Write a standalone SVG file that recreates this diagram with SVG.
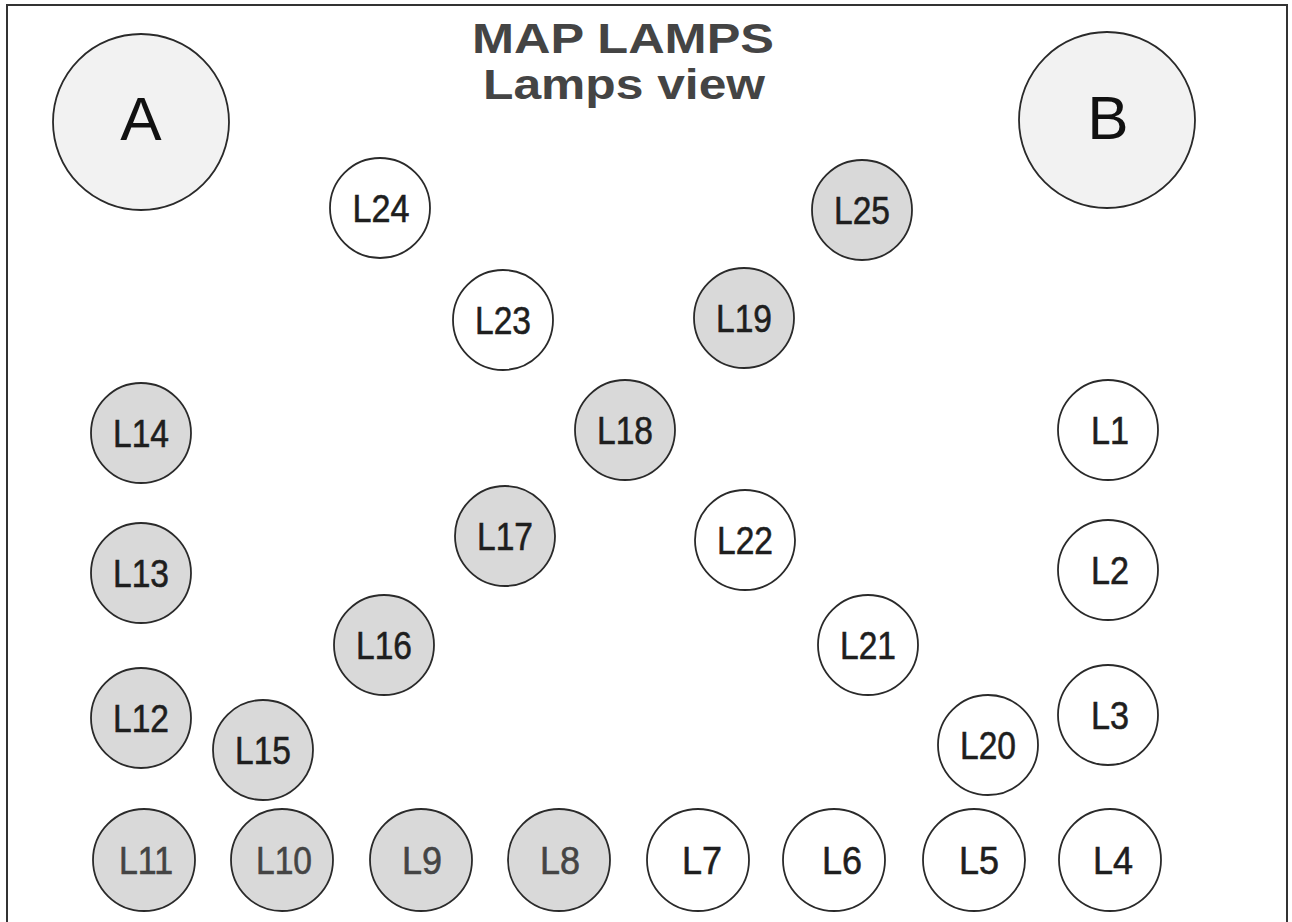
<svg xmlns="http://www.w3.org/2000/svg" width="1292" height="922" viewBox="0 0 1292 922">
<style>
.big{fill:#f2f2f2;stroke:#2a2a2a;stroke-width:1.8}
.on{fill:#d9d9d9;stroke:#2a2a2a;stroke-width:1.8}
.off{fill:#ffffff;stroke:#2a2a2a;stroke-width:1.8}
.lbl{font-family:"Liberation Sans",Arial,sans-serif;font-size:38px;fill:#1e1e1e;stroke:#1e1e1e;stroke-width:0.6;text-anchor:middle}
.dim{fill:#444;stroke:#444}
.bl{font-family:"Liberation Sans",Arial,sans-serif;font-size:62px;fill:#111;text-anchor:middle}
.title{font-family:"Liberation Sans",Arial,sans-serif;font-size:42px;font-weight:bold;fill:#444;text-anchor:middle}
</style>
<rect width="1292" height="922" fill="#fff"/>
<g id="frame" fill="none" stroke="#333" stroke-width="2">
<path d="M7 922 V5 H1287 V922"/>
</g>
<g id="title">
<text class="title" x="623" y="53" textLength="302" lengthAdjust="spacingAndGlyphs">MAP LAMPS</text>
<text class="title" x="624" y="99" textLength="282" lengthAdjust="spacingAndGlyphs">Lamps view</text>
</g>
<g id="A"><circle class="big" cx="141" cy="122" r="88"/><text class="bl" x="141" y="140">A</text></g>
<g id="B"><circle class="big" cx="1107" cy="120" r="88"/><text class="bl" x="1108" y="139">B</text></g>
<g id="connectors"></g>
<g id="L24"><circle class="off" cx="380" cy="208" r="50"/><text class="lbl" x="381" y="222" textLength="57" lengthAdjust="spacingAndGlyphs">L24</text></g>
<g id="L25"><circle class="on" cx="862" cy="210" r="50"/><text class="lbl" x="862" y="224" textLength="56" lengthAdjust="spacingAndGlyphs">L25</text></g>
<g id="L23"><circle class="off" cx="503" cy="320" r="50"/><text class="lbl" x="503" y="334" textLength="56" lengthAdjust="spacingAndGlyphs">L23</text></g>
<g id="L19"><circle class="on" cx="744" cy="318" r="50"/><text class="lbl" x="744" y="332" textLength="56" lengthAdjust="spacingAndGlyphs">L19</text></g>
<g id="L14"><circle class="on" cx="141" cy="433" r="50"/><text class="lbl" x="141" y="447" textLength="56" lengthAdjust="spacingAndGlyphs">L14</text></g>
<g id="L18"><circle class="on" cx="625" cy="430" r="50"/><text class="lbl" x="625" y="444" textLength="56" lengthAdjust="spacingAndGlyphs">L18</text></g>
<g id="L1"><circle class="off" cx="1108" cy="430" r="50"/><text class="lbl" x="1110" y="444" textLength="38" lengthAdjust="spacingAndGlyphs">L1</text></g>
<g id="L17"><circle class="on" cx="505" cy="536" r="50"/><text class="lbl" x="505" y="550" textLength="56" lengthAdjust="spacingAndGlyphs">L17</text></g>
<g id="L22"><circle class="off" cx="745" cy="540" r="50"/><text class="lbl" x="745" y="554" textLength="56" lengthAdjust="spacingAndGlyphs">L22</text></g>
<g id="L13"><circle class="on" cx="141" cy="573" r="50"/><text class="lbl" x="141" y="587" textLength="56" lengthAdjust="spacingAndGlyphs">L13</text></g>
<g id="L2"><circle class="off" cx="1108" cy="570" r="50"/><text class="lbl" x="1110" y="584" textLength="38" lengthAdjust="spacingAndGlyphs">L2</text></g>
<g id="L16"><circle class="on" cx="384" cy="645" r="50"/><text class="lbl" x="384" y="659" textLength="56" lengthAdjust="spacingAndGlyphs">L16</text></g>
<g id="L21"><circle class="off" cx="868" cy="645" r="50"/><text class="lbl" x="868" y="659" textLength="56" lengthAdjust="spacingAndGlyphs">L21</text></g>
<g id="L12"><circle class="on" cx="141" cy="718" r="50"/><text class="lbl" x="141" y="732" textLength="56" lengthAdjust="spacingAndGlyphs">L12</text></g>
<g id="L3"><circle class="off" cx="1108" cy="715" r="50"/><text class="lbl" x="1110" y="729" textLength="38" lengthAdjust="spacingAndGlyphs">L3</text></g>
<g id="L15"><circle class="on" cx="263" cy="750" r="50"/><text class="lbl" x="263" y="764" textLength="56" lengthAdjust="spacingAndGlyphs">L15</text></g>
<g id="L20"><circle class="off" cx="988" cy="745" r="50"/><text class="lbl" x="988" y="759" textLength="56" lengthAdjust="spacingAndGlyphs">L20</text></g>
<g id="L11"><circle class="on" cx="144" cy="860" r="51"/><text class="lbl dim" x="146" y="874" textLength="54" lengthAdjust="spacingAndGlyphs">L11</text></g>
<g id="L10"><circle class="on" cx="282" cy="860" r="51"/><text class="lbl dim" x="284" y="874" textLength="56" lengthAdjust="spacingAndGlyphs">L10</text></g>
<g id="L9"><circle class="on" cx="421" cy="860" r="51"/><text class="lbl dim" x="422" y="874" textLength="40" lengthAdjust="spacingAndGlyphs">L9</text></g>
<g id="L8"><circle class="on" cx="559" cy="860" r="51"/><text class="lbl dim" x="560" y="874" textLength="40" lengthAdjust="spacingAndGlyphs">L8</text></g>
<g id="L7"><circle class="off" cx="698" cy="860" r="51"/><text class="lbl" x="702" y="874" textLength="40" lengthAdjust="spacingAndGlyphs">L7</text></g>
<g id="L6"><circle class="off" cx="834" cy="860" r="51"/><text class="lbl" x="842" y="874" textLength="40" lengthAdjust="spacingAndGlyphs">L6</text></g>
<g id="L5"><circle class="off" cx="974" cy="860" r="51"/><text class="lbl" x="979" y="874" textLength="40" lengthAdjust="spacingAndGlyphs">L5</text></g>
<g id="L4"><circle class="off" cx="1110" cy="860" r="51"/><text class="lbl" x="1113" y="874" textLength="40" lengthAdjust="spacingAndGlyphs">L4</text></g>
</svg>
